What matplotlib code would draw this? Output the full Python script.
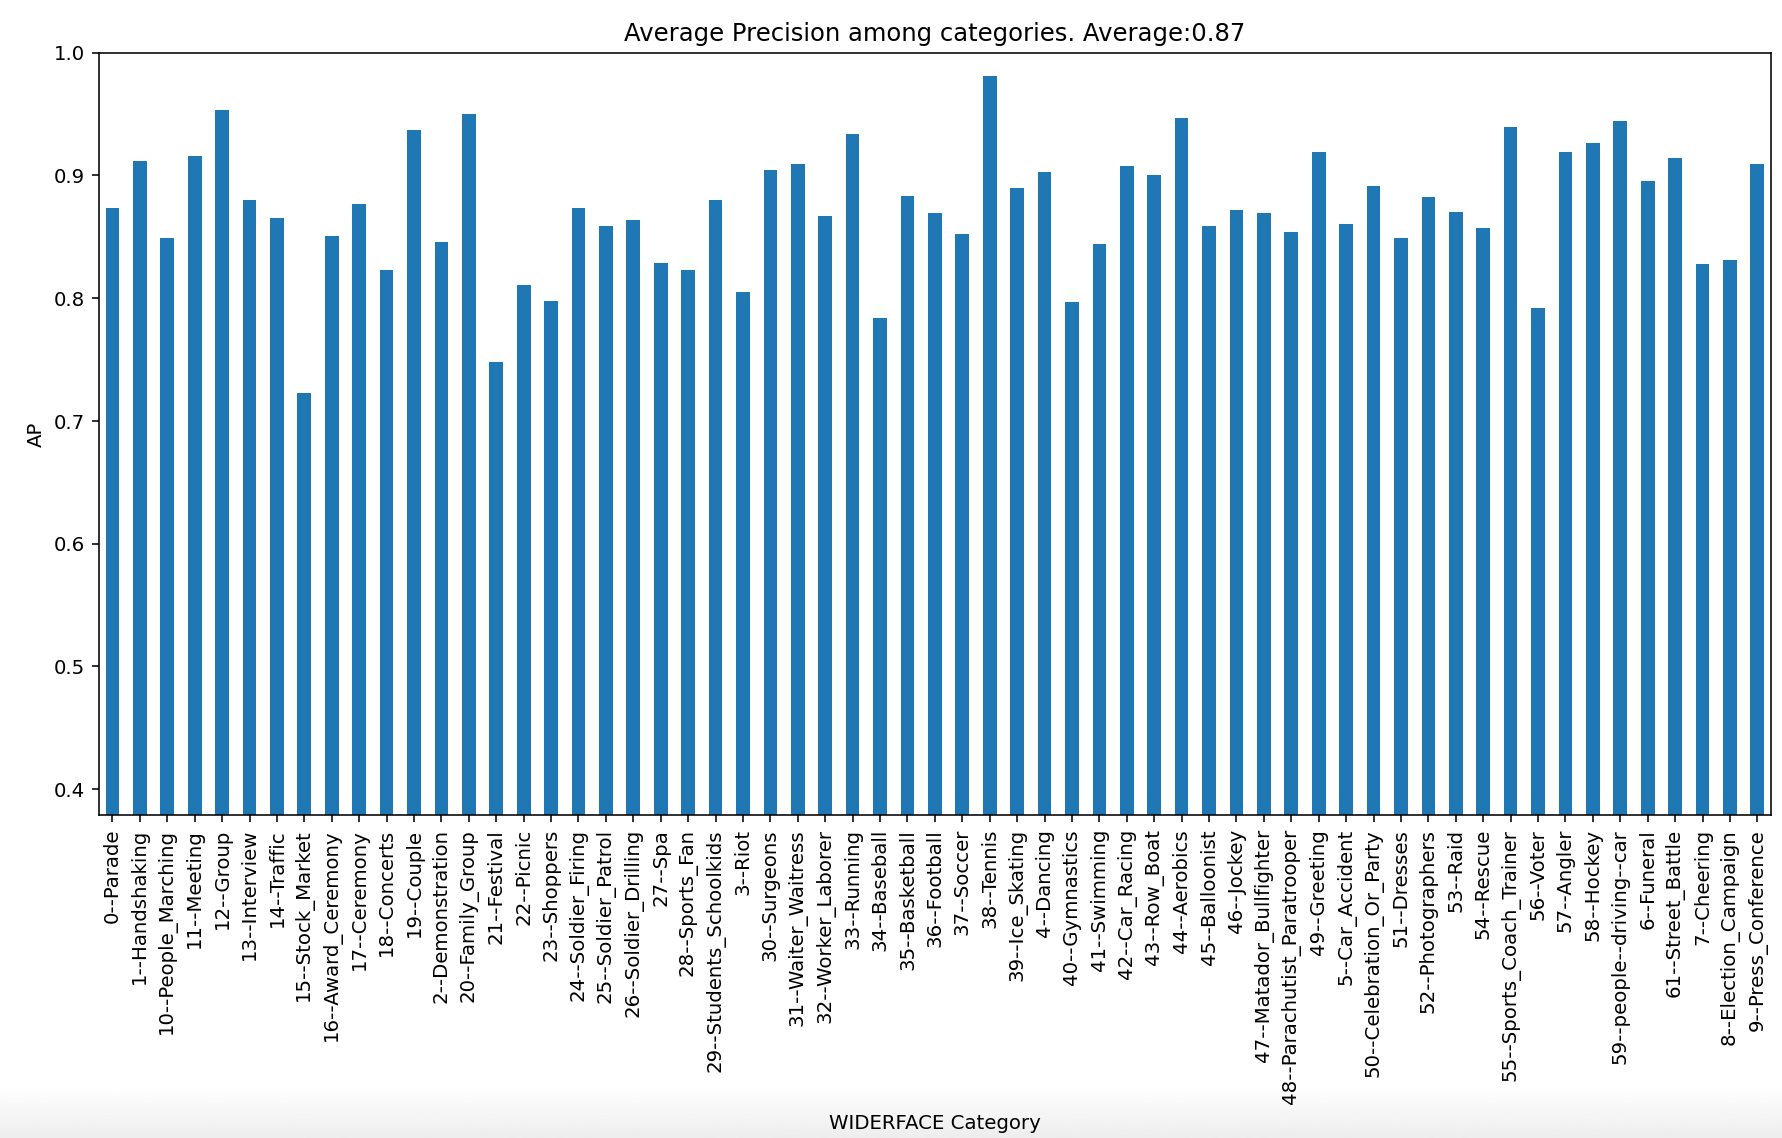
import matplotlib
matplotlib.use("Agg")
import matplotlib.pyplot as plt
import numpy as np

# WIDERFACE event categories, in the (string-sorted) order of the chart
categories = [
    "0--Parade", "1--Handshaking", "10--People_Marching", "11--Meeting", "12--Group",
    "13--Interview", "14--Traffic", "15--Stock_Market", "16--Award_Ceremony", "17--Ceremony",
    "18--Concerts", "19--Couple", "2--Demonstration", "20--Family_Group", "21--Festival",
    "22--Picnic", "23--Shoppers", "24--Soldier_Firing", "25--Soldier_Patrol", "26--Soldier_Drilling",
    "27--Spa", "28--Sports_Fan", "29--Students_Schoolkids", "3--Riot", "30--Surgeons",
    "31--Waiter_Waitress", "32--Worker_Laborer", "33--Running", "34--Baseball", "35--Basketball",
    "36--Football", "37--Soccer", "38--Tennis", "39--Ice_Skating", "4--Dancing",
    "40--Gymnastics", "41--Swimming", "42--Car_Racing", "43--Row_Boat", "44--Aerobics",
    "45--Balloonist", "46--Jockey", "47--Matador_Bullfighter", "48--Parachutist_Paratrooper", "49--Greeting",
    "5--Car_Accident", "50--Celebration_Or_Party", "51--Dresses", "52--Photographers", "53--Raid",
    "54--Rescue", "55--Sports_Coach_Trainer", "56--Voter", "57--Angler", "58--Hockey",
    "59--people--driving--car", "6--Funeral", "61--Street_Battle", "7--Cheering", "8--Election_Campaign",
    "9--Press_Conference",
]

# average precision per category
ap = [
    0.873, 0.912, 0.849, 0.916, 0.953, 0.880, 0.865, 0.723, 0.851, 0.877,
    0.823, 0.937, 0.846, 0.950, 0.748, 0.811, 0.798, 0.873, 0.859, 0.864,
    0.829, 0.823, 0.880, 0.805, 0.904, 0.909, 0.867, 0.934, 0.784, 0.883,
    0.869, 0.852, 0.981, 0.890, 0.903, 0.797, 0.844, 0.908, 0.900, 0.947,
    0.859, 0.872, 0.869, 0.854, 0.919, 0.860, 0.891, 0.849, 0.882, 0.870,
    0.857, 0.939, 0.792, 0.919, 0.926, 0.944, 0.895, 0.914, 0.828, 0.831,
    0.909,
]

mean_ap = np.mean(ap)

fig = plt.figure(figsize=(12.55, 8.015), dpi=142)
ax = fig.add_axes([0.0554, 0.2838, 0.9938 - 0.0554, 0.9537 - 0.2838])

x = np.arange(len(categories))
ax.bar(x, ap, width=0.5, color="#1f77b4")
ax.set_xticks(x)
ax.set_xticklabels(categories, rotation=90)
ax.set_xlim(-0.5, len(categories) - 0.5)
ax.set_ylim(0.379, 1.0)
ax.set_yticks([0.4, 0.5, 0.6, 0.7, 0.8, 0.9, 1.0])

ax.set_title("Average Precision among categories. Average:%.2f" % mean_ap, fontsize=12.3)
ax.set_xlabel("WIDERFACE Category", labelpad=5)
ax.set_ylabel("AP")

# light grey strip at the very bottom (notebook frame)
band = fig.add_axes([0, 0, 1, 0.045], zorder=-1)
grad = np.linspace(1.0, 0.93, 50).reshape(-1, 1)
band.imshow(grad, aspect="auto", cmap="gray", vmin=0, vmax=1,
            extent=[0, 1, 1, 0], origin="upper")
band.set_axis_off()

fig.savefig("out.png", dpi=142)
